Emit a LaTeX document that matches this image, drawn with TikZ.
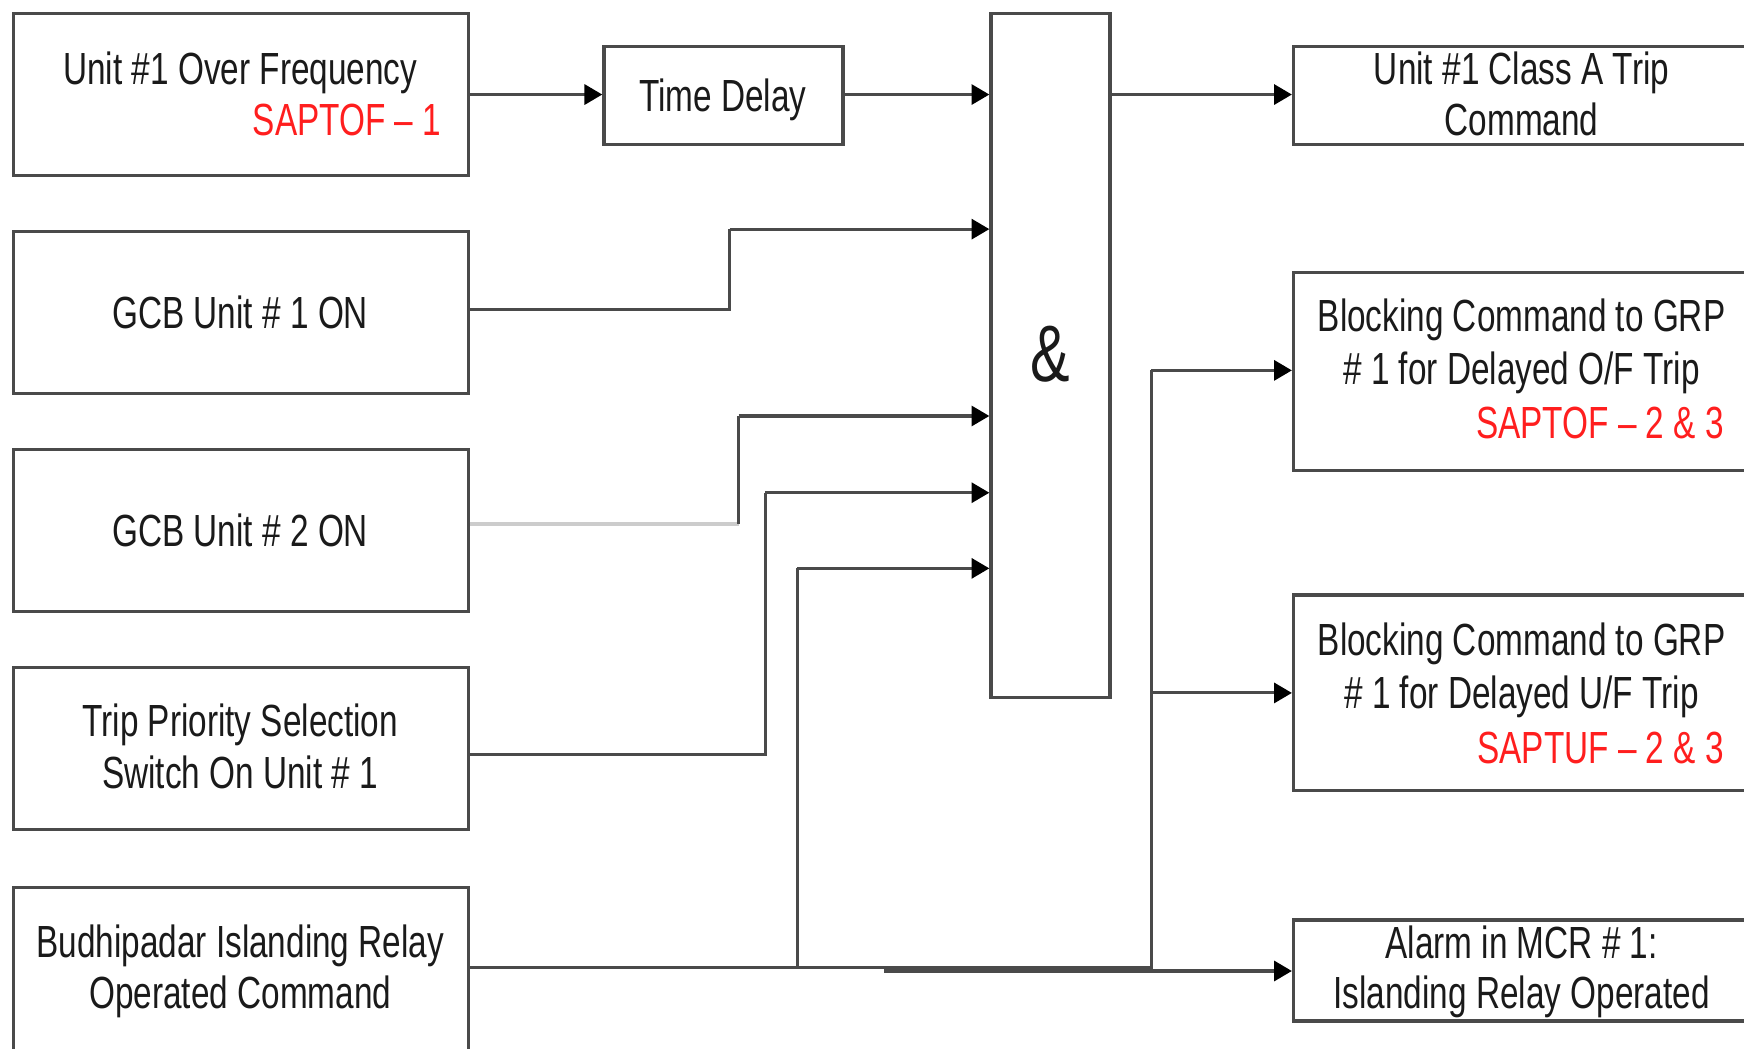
\documentclass[tikz,border=0pt]{standalone}
\usepackage{fontspec}
\setmainfont{Liberation Sans}[FakeStretch=0.74]
\usetikzlibrary{arrows.meta}
\definecolor{edge}{HTML}{4A4A4A}
\definecolor{txt}{HTML}{1A1A1A}
\definecolor{redt}{HTML}{FF1E1E}
\definecolor{faint}{HTML}{CCCCCC}
\begin{document}
\begin{tikzpicture}[x=1pt,y=-1pt,
 blk/.style={draw=edge, line width=3pt, fill=white, inner sep=0pt},
 lbl/.style={text=txt, inner sep=0pt, anchor=base, font=\fontsize{40.5}{47}\selectfont},
 rlbl/.style={text=redt, inner sep=0pt, anchor=base east, font=\fontsize{40.5}{47}\selectfont},
 wire/.style={draw=edge, line width=2.8pt},
 arr/.style={wire, -{Triangle[length=16pt,width=18pt,color=black]}}]
\useasboundingbox (0,0) rectangle (1568,943);
\fill[white] (0,0) rectangle (1568,943);

% boxes
\node[blk, minimum width=409pt, minimum height=146pt] (b1) at (216.5,85) {};
\node[blk, minimum width=409pt, minimum height=146pt] (b2) at (216.5,281) {};
\node[blk, minimum width=409pt, minimum height=146pt] (b3) at (216.5,477) {};
\node[blk, minimum width=409pt, minimum height=146pt] (b4) at (216.5,673) {};
\node[blk, minimum width=409pt, minimum height=156pt] (b5) at (216.5,876) {};
\node[blk, minimum width=215pt, minimum height=88pt] (td) at (650.5,86) {};
\node[blk, minimum width=107pt, minimum height=615pt] (andg) at (944.5,319.5) {};
\node[blk, minimum width=412pt, minimum height=88pt] (r1) at (1369,86) {};
\node[blk, minimum width=412pt, minimum height=178pt] (r2) at (1369,334) {};
\node[blk, minimum width=412pt, minimum height=176pt] (r3) at (1369,623) {};
\node[blk, minimum width=412pt, minimum height=91pt] (r4) at (1369,872.5) {};

% texts
\node[lbl] (t1a) at (216,76) {Unit \#1 Over Frequency};
\node[rlbl] (t1b) at (397,122) {SAPTOF – 1};
\node[lbl] (t2) at (216,295) {GCB Unit \# 1 ON};
\node[lbl] (t3) at (216,491) {GCB Unit \# 2 ON};
\node[lbl] (t4a) at (216,662) {Trip Priority Selection};
\node[lbl] (t4b) at (216,709) {Switch On Unit \# 1};
\node[lbl] (t5a) at (216,861) {Budhipadar Islanding Relay};
\node[lbl] (t5b) at (216,907) {Operated Command};
\node[lbl] (ttd) at (650,100) {Time Delay};
\node[text=txt, inner sep=0pt, font=\fontsize{72}{72}\selectfont] (tand) at (944,318) {\&};
\node[lbl] (r1a) at (1368,76) {Unit \#1 Class A Trip};
\node[lbl] (r1b) at (1368,122) {Command};
\node[lbl] (r2a) at (1368,298) {Blocking Command to GRP};
\node[lbl] (r2b) at (1368,346) {\# 1 for Delayed O/F Trip};
\node[rlbl] (r2c) at (1550,394) {SAPTOF – 2 \& 3};
\node[lbl] (r3a) at (1368,589) {Blocking Command to GRP};
\node[lbl] (r3b) at (1368,637) {\# 1 for Delayed U/F Trip};
\node[rlbl] (r3c) at (1550,686) {SAPTUF – 2 \& 3};
\node[lbl] (r4a) at (1368,862) {Alarm in MCR \# 1:};
\node[lbl] (r4b) at (1368,907) {Islanding Relay Operated};

% connectors
\draw[arr] (b1.east) -- (b1.east -| td.west);
\draw[arr] (td.east |- 0,85) -- (andg.west |- 0,85);
\draw[wire] (b2.east |- 0,278) -- (656,278) -- (656,206);
\draw[arr] (656,206) -- (andg.west |- 0,206);
\draw[faint, line width=3pt] (b3.east |- 0,471) -- (664,471);
\draw[wire] (664,471) -- (664,374);
\draw[arr] (664,374) -- (andg.west |- 0,374);
\draw[wire] (b4.east |- 0,678) -- (688,678) -- (688,443);
\draw[arr] (688,443) -- (andg.west |- 0,443);
\draw[wire] (b5.east |- 0,870) -- (717,870) -- (717,511);
\draw[arr] (717,511) -- (andg.west |- 0,511);
\draw[wire] (717,870) -- (1035,870) -- (1035,333);
\draw[arr] (1035,333) -- (r2.west |- 0,333);
\draw[arr] (1035,623) -- (r3.west |- 0,623);
\draw[arr] (795,873) -- (r4.west |- 0,873);
\draw[arr] (andg.east |- 0,85) -- (r1.west |- 0,85);
\end{tikzpicture}
\end{document}
